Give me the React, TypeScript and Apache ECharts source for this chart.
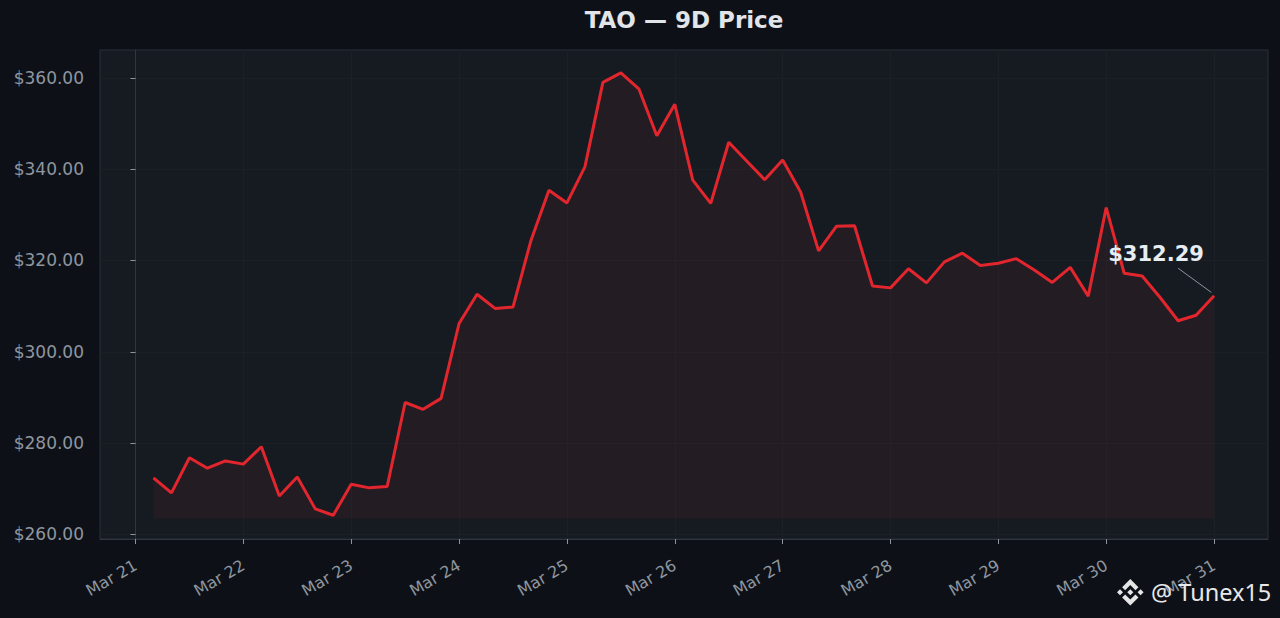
import React, { useEffect, useRef } from "react";
import * as echarts from "echarts";

// hours since Mar 21 00:00 (4-hour samples)
const hours = [
  4, 8, 12, 16, 20, 24, 28, 32, 36, 40, 44, 48, 52, 56, 60, 64, 68, 72, 76, 80,
  84, 88, 92, 96, 100, 104, 108, 112, 116, 120, 124, 128, 132, 136, 140, 144, 148, 152, 156, 160,
  164, 168, 172, 176, 180, 184, 188, 192, 196, 200, 204, 208, 212, 216, 220, 224, 228, 232, 236, 240,
];

const prices = [
  272.4, 269.1, 276.8, 274.5, 276.1, 275.4, 279.2, 268.4, 272.6, 265.6,
  264.2, 271.0, 270.2, 270.5, 288.9, 287.4, 289.8, 306.2, 312.6, 309.5,
  309.8, 324.4, 335.4, 332.6, 340.5, 359.0, 361.1, 357.6, 347.3, 354.2,
  337.6, 332.5, 345.9, 341.8, 337.7, 342.0, 335.0, 322.1, 327.5, 327.6,
  314.4, 314.0, 318.2, 315.1, 319.7, 321.6, 318.9, 319.4, 320.4, 317.9,
  315.2, 318.5, 312.2, 331.6, 317.2, 316.6, 311.9, 306.8, 308.0, 312.29,
];

const dayTicks = [0, 24, 48, 72, 96, 120, 144, 168, 192, 216, 240];
const dayLabels = [
  "Mar 21", "Mar 22", "Mar 23", "Mar 24", "Mar 25", "Mar 26",
  "Mar 27", "Mar 28", "Mar 29", "Mar 30", "Mar 31",
];
const priceTicks = [260, 280, 300, 320, 340, 360];

const FILL_BASE = 263.5;
const TITLE = "TAO — 9D Price";
const WATERMARK = "@ Tunex15";

const BINANCE_D =
  "M38.73 53.2l24.59-24.58 24.6 24.6 14.3-14.31L63.32 0 24.43 38.9l14.3 14.3zM0 63.31l14.3-14.31 14.31 14.31-14.31 14.3zM38.73 73.41l24.59 24.59 24.6-24.6 14.31 14.29-38.9 38.91-38.91-38.88-.02-.02 14.33-14.29zM98 63.31l14.3-14.31 14.31 14.3-14.31 14.32zM77.83 63.3L63.32 48.78 52.59 59.51l-1.24 1.23-2.54 2.54-.02.02.02.03 14.51 14.5 14.51-14.52.01-.01-.01-.01z";

let registered = false;

export default function App() {
  const ref = useRef<HTMLDivElement>(null);

  useEffect(() => {
    if (!ref.current) return;
    if (!registered) {
      echarts.graphic.registerShape("logo", echarts.graphic.extendPath(BINANCE_D, {}));
      registered = true;
    }
    const chart = echarts.init(ref.current, undefined, { renderer: "svg" });
    const font = "DejaVu Sans";
    const lastIdx = prices.length - 1;
    const lastLabel = "$" + prices[lastIdx].toFixed(2);

    chart.setOption({
      animation: false,
      backgroundColor: "#0d1117",
      textStyle: { fontFamily: font },
      grid: {
        left: 100,
        right: 12,
        top: 50,
        bottom: 79,
        show: true,
        backgroundColor: "#161b22",
        borderColor: "#2a3038",
        borderWidth: 1,
      },
      xAxis: {
        type: "value",
        min: -7.9,
        max: 252,
        axisLine: { show: true, lineStyle: { color: "#30363d" } },
        axisTick: {
          show: true,
          length: 5,
          customValues: dayTicks,
          lineStyle: { color: "#8b949e" },
        },
        splitLine: { show: true, lineStyle: { color: "#1b2027", width: 1 } },
        axisLabel: {
          customValues: dayTicks,
          rotate: 30,
          margin: 25,
          color: "#8f969f",
          fontSize: 16,
          fontFamily: font,
          formatter: (v: number) => {
            const i = dayTicks.indexOf(v);
            return i >= 0 ? dayLabels[i] : "";
          },
        },
      },
      yAxis: {
        type: "value",
        min: 259.0,
        max: 366.1,
        axisLine: { show: true, lineStyle: { color: "#30363d" } },
        axisTick: {
          show: true,
          length: 5,
          customValues: priceTicks,
          lineStyle: { color: "#8b949e" },
        },
        splitLine: { show: true, lineStyle: { color: "#1b2027", width: 1 } },
        axisLabel: {
          customValues: priceTicks,
          margin: 16,
          color: "#8f969f",
          fontSize: 17,
          fontFamily: font,
          formatter: (v: number) => "$" + v.toFixed(2),
        },
      },
      series: [
        {
          type: "line",
          data: hours.map((h, i) => [h, prices[i]]),
          symbol: "none",
          lineStyle: { color: "#e3262d", width: 3 },
          areaStyle: { origin: FILL_BASE, color: "rgba(232,40,47,0.095)" },
          silent: true,
          markPoint: {
            silent: true,
            symbol: "circle",
            symbolSize: 0,
            data: [{ coord: [hours[lastIdx], prices[lastIdx]] }],
            label: {
              show: true,
              position: "inside",
              offset: [-58, -42],
              formatter: lastLabel,
              color: "#e6edf3",
              fontSize: 21,
              fontWeight: "bold",
              fontFamily: font,
            },
          },
          markLine: {
            silent: true,
            symbol: "none",
            label: { show: false },
            lineStyle: { color: "#8b949e", width: 1, type: "solid" },
            data: [
              [
                { coord: [232.0, 318.3] },
                { coord: [239.4, 313.0] },
              ],
            ],
          },
        },
      ],
      graphic: [
        {
          type: "text",
          x: 684,
          y: 20,
          style: {
            text: TITLE,
            fill: "#e1e5ea",
            font: `bold 23px "${font}"`,
            textAlign: "center",
            textVerticalAlign: "middle",
          },
        },
        {
          type: "logo",
          x: 1117,
          y: 579,
          scaleX: 0.21,
          scaleY: 0.21,
          z: 100,
          style: { fill: "#e6e6e6" },
        },
        {
          type: "text",
          x: 1151,
          y: 592,
          z: 100,
          style: {
            text: WATERMARK,
            fill: "#e8e8e8",
            font: `23.5px "Noto Sans"`,
            textAlign: "left",
            textVerticalAlign: "middle",
          },
        },
      ],
    });

    return () => chart.dispose();
  }, []);

  return (
    <div
      ref={ref}
      style={{ position: "fixed", left: 0, top: 0, width: "100vw", height: "100vh" }}
    />
  );
}
